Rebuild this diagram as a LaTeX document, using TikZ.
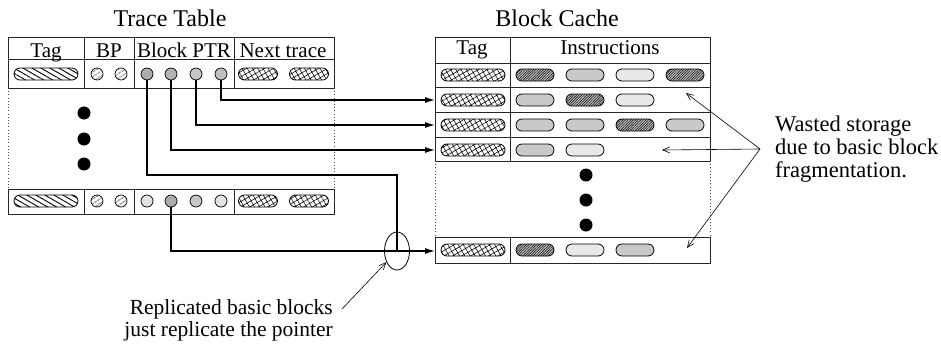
\documentclass[tikz,border=0pt]{standalone}
\usepackage{fontspec}
\setmainfont{Liberation Serif}
\usetikzlibrary{arrows.meta,patterns.meta,shapes.misc,shapes.geometric}

\tikzset{
  frame/.style={draw=black!85, line width=0.9pt},
  dotframe/.style={draw=black!70, line width=0.7pt, dash pattern=on 1pt off 2.2pt},
  lbl/.style={font=\fontsize{21}{23}\selectfont, inner sep=0pt},
  title/.style={font=\fontsize{24}{26}\selectfont, inner sep=0pt},
  remark/.style={font=\fontsize{22.5}{24}\selectfont, inner sep=0pt},
  pill/.style={rounded rectangle, draw=black, line width=0.8pt,
    minimum height=12pt, inner sep=0pt},
  tagpill/.style={pill, minimum width=64pt,
    pattern={Lines[angle=-30,distance=4.5pt,line width=0.9pt]}},
  meshpill/.style={pill, minimum width=39pt,
    pattern={Hatch[angle=30,distance=4.5pt,line width=0.55pt]}},
  ctagpill/.style={meshpill, minimum width=64pt},
  idark/.style={pill, minimum width=38pt, preaction={fill=gray!50},
    pattern={Lines[angle=45,distance=1.8pt,line width=0.5pt]}},
  imid/.style={pill, minimum width=38pt, fill=gray!42},
  ilight/.style={pill, minimum width=38pt, fill=gray!18},
  bpdot/.style={circle, draw=black, line width=0.7pt, minimum size=12pt,
    inner sep=0pt, pattern={Lines[angle=35,distance=4pt,line width=0.7pt]}},
  ptrdot/.style={circle, draw=black, line width=0.7pt, minimum size=12pt,
    inner sep=0pt, fill=#1},
  bigdot/.style={circle, fill=black, minimum size=13pt, inner sep=0pt},
  conn/.style={draw=black, line width=1.2pt, -{Latex[length=10pt,width=6pt]}},
  link/.style={draw=black, line width=1.2pt},
  note/.style={draw=black, line width=0.6pt, -{Straight Barb[length=7pt,width=6pt]}},
}

\begin{document}
\begin{tikzpicture}[x=1pt, y=-1pt]
\useasboundingbox (0,0) rectangle (941,351);

% ---------- titles ----------
\node[title, anchor=base] (ttitle) at (170,26) {Trace Table};
\node[title, anchor=base] (ctitle) at (557,26) {Block Cache};

% ---------- trace table ----------
\draw[frame] (8,37) rectangle (334,88);
\draw[frame] (8,59) -- (334,59);
\foreach \x in {84,134,234} \draw[frame] (\x,37) -- (\x,88);
\draw[frame] (8,189) rectangle (334,214);
\foreach \x in {84,134,234} \draw[frame] (\x,189) -- (\x,214);
\draw[dotframe] (8,88) -- (8,189);
\draw[dotframe] (334,88) -- (334,189);

\node[lbl, anchor=base] (hTag) at (46,57) {Tag};
\node[lbl, anchor=base] (hBP) at (109,57) {BP};
\node[lbl, anchor=base] (hPtr) at (184,57) {Block PTR};
\node[lbl, anchor=base] (hNext) at (283,57) {Next trace};

% first trace entry
\node[tagpill] (t1tag) at (46,74) {};
\node[bpdot] (t1b1) at (97,74) {};
\node[bpdot] (t1b2) at (121,74) {};
\node[ptrdot=gray!65] (p1) at (147,74) {};
\node[ptrdot=gray!60] (p2) at (171,74) {};
\node[ptrdot=gray!45] (p3) at (196,74) {};
\node[ptrdot=gray!50] (p4) at (221,74) {};
\node[meshpill] (t1n1) at (258,74) {};
\node[meshpill] (t1n2) at (309,74) {};

% gap marks
\node[bigdot] (td1) at (84,113) {};
\node[bigdot] (td2) at (84,139) {};
\node[bigdot] (td3) at (84,164) {};

% last trace entry
\node[tagpill] (t2tag) at (46,201) {};
\node[bpdot] (t2b1) at (97,201) {};
\node[bpdot] (t2b2) at (121,201) {};
\node[ptrdot=gray!22] (q1) at (147,201) {};
\node[ptrdot=gray!65] (q2) at (171,201) {};
\node[ptrdot=gray!45] (q3) at (196,201) {};
\node[ptrdot=gray!22] (q4) at (221,201) {};
\node[meshpill] (t2n1) at (258,201) {};
\node[meshpill] (t2n2) at (309,201) {};

% ---------- block cache ----------
\draw[frame] (435,37) rectangle (710,161);
\foreach \y in {63,87,112,137} \draw[frame] (435,\y) -- (710,\y);
\draw[frame] (510,37) -- (510,161);
\draw[frame] (435,237) rectangle (710,263);
\draw[frame] (510,237) -- (510,263);
\draw[dotframe] (435,161) -- (435,237);
\draw[dotframe] (710,161) -- (710,237);

\node[lbl, anchor=base] (cTag) at (472,54) {Tag};
\node[lbl, anchor=base] (cIns) at (610,54) {Instructions};

% cache lines
\node[ctagpill] (c1t) at (473,75) {};
\node[idark]  (c1a) at (535,75) {};
\node[imid]   (c1b) at (585,75) {};
\node[ilight] (c1c) at (635,75) {};
\node[idark]  (c1d) at (685,75) {};

\node[ctagpill] (c2t) at (473,100) {};
\node[imid]   (c2a) at (535,100) {};
\node[idark]  (c2b) at (585,100) {};
\node[ilight] (c2c) at (635,100) {};

\node[ctagpill] (c3t) at (473,125) {};
\node[imid]   (c3a) at (535,125) {};
\node[imid]   (c3b) at (585,125) {};
\node[idark]  (c3c) at (635,125) {};
\node[imid]   (c3d) at (685,125) {};

\node[ctagpill] (c4t) at (473,150) {};
\node[imid]   (c4a) at (535,150) {};
\node[ilight] (c4b) at (585,150) {};

\node[bigdot] (cd1) at (586,175) {};
\node[bigdot] (cd2) at (586,200) {};
\node[bigdot] (cd3) at (586,225) {};

\node[ctagpill] (c5t) at (473,250) {};
\node[idark]  (c5a) at (535,250) {};
\node[ilight] (c5b) at (585,250) {};
\node[imid]   (c5c) at (635,250) {};

% entry points on the cache lines
\coordinate (row2) at (435,100);
\coordinate (row3) at (435,125);
\coordinate (row4) at (435,150);
\coordinate (row5) at (435,251);

% ---------- block pointers ----------
\node[ellipse, draw=black, line width=0.8pt, minimum width=25pt,
      minimum height=38pt, inner sep=0pt] (rep) at (397,251) {};
\coordinate (bend) at (397,175);

\draw[conn] (p4.south) |- (row2);
\draw[conn] (p3.south) |- (row3);
\draw[conn] (p2.south) |- (row4);
\draw[link] (p1.south) |- (bend) -- (rep.center);
\draw[conn] (q2.south) |- (row5);

% ---------- annotations ----------
\coordinate (ws) at (760,149);
\coordinate (gap2) at (686,93);
\coordinate (gap4) at (662,150);
\coordinate (gap5) at (687,248);
\node[remark, anchor=base west] (w1) at (775,131) {Wasted storage};
\node[remark, anchor=base west] (w2) at (775,154) {due to basic block};
\node[remark, anchor=base west] (w3) at (775,177) {fragmentation.};
\draw[note] (ws) -- (gap2);
\draw[note] (ws) -- (gap4);
\draw[note] (ws) -- (gap5);

\node[lbl, font=\fontsize{21.5}{23}\selectfont, anchor=base east] (r1) at (333,314) {Replicated basic blocks};
\node[lbl, font=\fontsize{21.5}{23}\selectfont, anchor=base east] (r2) at (333,336) {just replicate the pointer};
\coordinate (rs) at (342,309);
\draw[note] (rs) -- (rep);
\end{tikzpicture}
\end{document}
